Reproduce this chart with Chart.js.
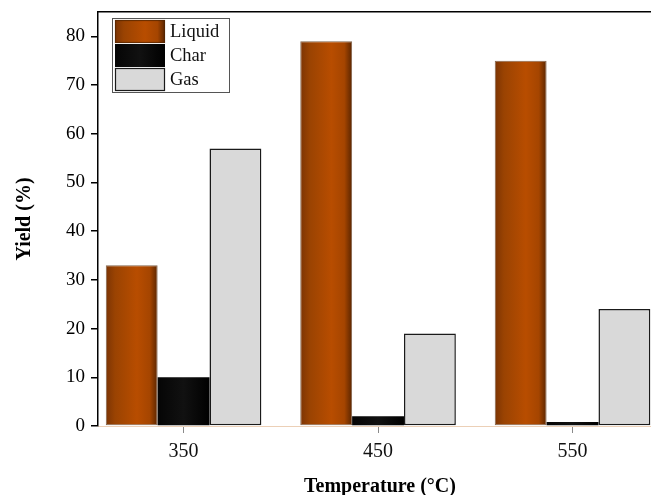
<!DOCTYPE html>
<html>
<head>
<meta charset="utf-8">
<script src="https://cdn.jsdelivr.net/npm/chart.js@4.4.1/dist/chart.umd.min.js"></script>
<style>
  html, body { margin: 0; padding: 0; background: #fff; overflow: hidden; }
  canvas { display: block; }
</style>
</head>
<body>
<canvas id="yieldChart" width="680" height="495"></canvas>
<script>
// Pyrolysis product yields by temperature
const temps = [350, 450, 550];
const liquidYield = [33, 79, 75];
const charYield = [10, 2, 0.8];
const gasYield = [57, 19, 24];
const seriesNames = ['Liquid', 'Char', 'Gas'];
const yTicks = [0, 10, 20, 30, 40, 50, 60, 70, 80];

const serif = "'Liberation Serif', 'Times New Roman', serif";

// horizontal shading for the rounded look of the bars
const liquidShade = [[0, '#7c3404'], [0.18, '#9a4302'], [0.6, '#b84d00'], [0.85, '#a54500'], [1, '#5a2500']];
const charShade = [[0, '#050505'], [0.5, '#111111'], [1, '#000000']];

function points(vals) {
  return vals.map((v, i) => ({ x: temps[i], y: v }));
}

function gradientFor(ctx, left, right, stops) {
  const g = ctx.createLinearGradient(left, 0, right, 0);
  stops.forEach(([p, c]) => g.addColorStop(p, c));
  return g;
}

const barShading = {
  id: 'barShading',
  beforeDatasetsDraw(chart) {
    const ctx = chart.ctx;
    chart.data.datasets.forEach((ds, i) => {
      if (!ds.shade) return;
      chart.getDatasetMeta(i).data.forEach(el => {
        el.options.backgroundColor = gradientFor(ctx, el.x - el.width / 2, el.x + el.width / 2, ds.shade);
      });
    });
  }
};

// framed legend in the upper-left corner of the plot
const cornerLegend = {
  id: 'cornerLegend',
  afterDatasetsDraw(chart) {
    const { ctx, chartArea: ca } = chart;
    const x0 = ca.left + 14, y0 = ca.top + 6, w = 118, h = 75;
    const sw = 50, sh = 23, row = 24;
    ctx.save();
    ctx.fillStyle = '#ffffff';
    ctx.fillRect(x0, y0, w, h);
    ctx.strokeStyle = '#555555';
    ctx.lineWidth = 1;
    ctx.strokeRect(x0 + 0.5, y0 + 0.5, w - 1, h - 1);
    chart.data.datasets.forEach((ds, i) => {
      const sx = x0 + 3, sy = y0 + 2 + i * row;
      ctx.fillStyle = ds.shade ? gradientFor(ctx, sx, sx + sw, ds.shade) : ds.backgroundColor;
      ctx.fillRect(sx, sy, sw, sh);
      if (ds.borderWidth) {
        ctx.strokeStyle = ds.borderColor;
        ctx.lineWidth = 1.2;
        ctx.strokeRect(sx + 0.5, sy + 0.5, sw - 1, sh - 1);
      }
      ctx.fillStyle = '#111111';
      ctx.font = '18.5px ' + serif;
      ctx.textAlign = 'left';
      ctx.textBaseline = 'middle';
      ctx.fillText(ds.label, x0 + 58, sy + sh / 2 + 1);
    });
    ctx.restore();
  }
};

const chart = new Chart(document.getElementById('yieldChart'), {
  type: 'bar',
  data: {
    datasets: [
      {
        label: seriesNames[0], data: points(liquidYield), xAxisID: 'x', yAxisID: 'y',
        backgroundColor: () => '#b04a00', shade: liquidShade,
        borderColor: 'rgba(80,35,0,0.7)', borderWidth: 1, borderSkipped: false
      },
      {
        label: seriesNames[1], data: points(charYield), xAxisID: 'x', yAxisID: 'y',
        backgroundColor: () => '#000000', shade: charShade,
        borderWidth: 0
      },
      {
        label: seriesNames[2], data: points(gasYield), xAxisID: 'x', yAxisID: 'y',
        backgroundColor: '#d9d9d9', borderColor: '#1a1a1a', borderWidth: 1.5, borderSkipped: false
      }
    ]
  },
  options: {
    responsive: false,
    animation: false,
    devicePixelRatio: 1,
    layout: { padding: 0 },
    datasets: { bar: { categoryPercentage: 0.8, barPercentage: 1.0, grouped: true } },
    plugins: { legend: { display: false }, tooltip: { enabled: false } },
    scales: {
      x: {
        type: 'linear', position: 'bottom', min: 306, max: 596, offset: false,
        afterBuildTicks: s => { s.ticks = temps.map(v => ({ value: v })); },
        afterFit: s => { s.height = 69; s.paddingLeft = 0; s.paddingRight = 0; },
        grid: { offset: false, drawOnChartArea: false, drawTicks: true, tickLength: 7, color: '#8a8a8a', lineWidth: 1 },
        border: { display: true, color: 'rgba(200,120,50,0.35)', width: 1 },
        ticks: { font: { family: serif, size: 20 }, color: '#111', padding: 7, autoSkip: false, maxRotation: 0, callback: v => String(v) },
        title: { display: true, text: 'Temperature (°C)', color: '#000', font: { family: serif, size: 20, weight: 'bold', lineHeight: 0.8 }, padding: { top: 0, bottom: 0 } }
      },
      y: {
        type: 'linear', position: 'left', min: 0, max: 85,
        afterBuildTicks: s => { s.ticks = yTicks.map(v => ({ value: v })); },
        afterFit: s => { s.width = 98; s.paddingTop = 0; s.paddingBottom = 0; },
        grid: { drawOnChartArea: false, drawTicks: true, tickLength: 7, color: '#000', lineWidth: 1.5 },
        border: { display: true, color: '#000', width: 1.5 },
        ticks: { font: { family: serif, size: 19 }, color: '#000', padding: 6 },
        title: { display: true, text: 'Yield (%)', color: '#000', font: { family: serif, size: 20, weight: 'bold' }, padding: { top: 13, bottom: 0 } }
      },
      x2: {
        type: 'linear', position: 'top',
        afterFit: s => { s.height = 12; s.paddingLeft = 0; s.paddingRight = 0; },
        grid: { drawOnChartArea: false, drawTicks: false },
        ticks: { display: false },
        border: { display: true, color: '#000', width: 1.5 }
      },
      y2: {
        type: 'linear', position: 'right',
        afterFit: s => { s.width = 18; s.paddingTop = 0; s.paddingBottom = 0; },
        grid: { drawOnChartArea: false, drawTicks: false },
        ticks: { display: false },
        border: { display: true, color: '#000', width: 1.5 }
      }
    }
  },
  plugins: [barShading, cornerLegend]
});
</script>
</body>
</html>
